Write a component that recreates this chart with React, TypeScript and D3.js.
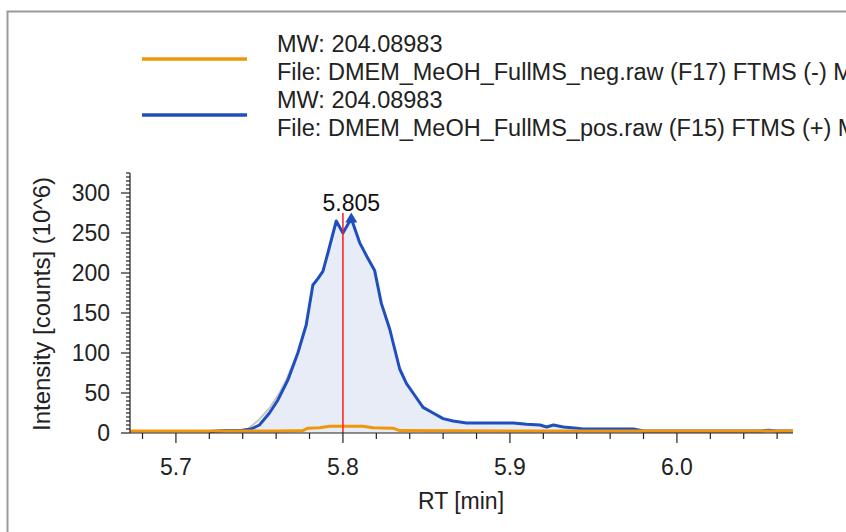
import React from 'react';
import * as d3 from 'd3';

// RT [min] vs intensity (10^6)
const bluePos: [number, number][] = [
  [5.720, 2], [5.730, 3], [5.740, 3.5], [5.745, 5], [5.750, 10], [5.756, 25],
  [5.761, 41], [5.767, 66], [5.773, 100], [5.778, 135], [5.782, 185], [5.785, 193],
  [5.788, 202], [5.791, 225], [5.796, 265], [5.800, 250], [5.805, 268], [5.810, 238],
  [5.815, 218], [5.819, 203], [5.823, 162], [5.828, 130], [5.834, 80], [5.838, 62],
  [5.842, 50], [5.848, 32], [5.854, 25], [5.860, 18], [5.866, 15], [5.874, 12.5],
  [5.890, 12.5], [5.902, 12.5], [5.910, 11], [5.918, 10], [5.922, 7.5], [5.926, 10],
  [5.932, 7.5], [5.940, 6], [5.944, 5], [5.974, 5], [5.980, 2.5], [6.050, 2.5],
  [6.055, 3.5], [6.060, 2.5], [6.0695, 2.5],
];

const grayRaw: [number, number][] = [
  [5.735, 3], [5.743, 5], [5.750, 17], [5.756, 31], [5.762, 50], [5.766, 66], [5.773, 100],
];

const orangeNeg: [number, number][] = [
  [5.6725, 2.5], [5.700, 2.5], [5.760, 2.5], [5.776, 3], [5.779, 6], [5.786, 6.5],
  [5.792, 8.5], [5.812, 8.5], [5.818, 6.5], [5.830, 6], [5.834, 3], [5.900, 2.5],
  [6.000, 2.5], [6.0695, 2.5],
];

// the chart panel clips these file names at its right edge, as in the original
const legendItems = [
  { color: '#f0960a', mw: 'MW: 204.08983', file: 'File: DMEM_MeOH_FullMS_neg.raw (F17) FTMS (-) MS' },
  { color: '#1f4fbf', mw: 'MW: 204.08983', file: 'File: DMEM_MeOH_FullMS_pos.raw (F15) FTMS (+) MS' },
];

const xTicks = [5.7, 5.8, 5.9, 6.0];
const yTicks = [0, 50, 100, 150, 200, 250, 300];
const peakRT = 5.805;
const peakValue = 268;
const cursorRT = 5.8;

export default function App() {
  const width = 846;
  const height = 532;
  const font = 'Liberation Sans, Arial, sans-serif';

  const x = d3.scaleLinear().domain([5.6725, 6.0695]).range([130, 793]);
  const y = d3.scaleLinear().domain([0, 325]).range([433, 173]);

  const line = d3.line<[number, number]>().x((d) => x(d[0])).y((d) => y(d[1]));
  const area = d3.area<[number, number]>().x((d) => x(d[0])).y0(y(0)).y1((d) => y(d[1]));

  const xMinor = d3.range(5.68, 6.07, 0.02).filter((t) => !xTicks.some((m) => Math.abs(m - t) < 1e-6));
  const yMinor = d3.range(0, 326, 5).filter((t) => t % 50 !== 0);

  const px = x(peakRT);
  const py = y(peakValue);

  return (
    <svg width={width} height={height} style={{ position: 'absolute', left: 0, top: 0, background: '#fff' }}>
      {/* frame */}
      <path d={`M7.5,${height} V11.5 H${width}`} fill="none" stroke="#9a9a9a" strokeWidth={2} />

      {/* legend */}
      {legendItems.map((it, i) => (
        <g key={it.file} transform={`translate(0, ${i * 56})`}>
          <line x1={142} x2={247} y1={59} y2={59} stroke={it.color} strokeWidth={3.5} />
          <text x={277} y={52} fontFamily={font} fontSize={23.5} fill="#222">{it.mw}</text>
          <text x={277} y={80} fontFamily={font} fontSize={23.5} fill="#222">{it.file}</text>
        </g>
      ))}

      {/* traces */}
      <path d={area(bluePos) ?? ''} fill="#e7ecf7" />
      <path d={line(grayRaw) ?? ''} fill="none" stroke="#c4c4c4" strokeWidth={2} />
      <path d={line(bluePos) ?? ''} fill="none" stroke="#1f4fbf" strokeWidth={3} strokeLinejoin="round" />
      <path d={line(orangeNeg) ?? ''} fill="none" stroke="#f0960a" strokeWidth={3} strokeLinejoin="round" />

      {/* cursor */}
      <line x1={x(cursorRT)} x2={x(cursorRT)} y1={213} y2={y(0)} stroke="#ff1a1a" strokeWidth={1.5} />

      {/* peak marker */}
      <path d={`M${px},${py - 6} L${px - 6},${py + 4} L${px + 6},${py + 4} Z`} fill="#1f4fbf" />
      <text x={px} y={211} textAnchor="middle" fontFamily={font} fontSize={23} fill="#111">{peakRT.toFixed(3)}</text>

      {/* y axis */}
      <g stroke="#222" strokeWidth={1.2}>
        <line x1={130} x2={130} y1={173} y2={433} />
        {yTicks.map((t) => <line key={`ym${t}`} x1={121} x2={130} y1={y(t)} y2={y(t)} />)}
        {yMinor.map((t) => <line key={`yn${t}`} x1={126} x2={130} y1={y(t)} y2={y(t)} />)}
      </g>
      {yTicks.map((t) => (
        <text key={`yl${t}`} x={110} y={y(t)} dy="0.36em" textAnchor="end" fontFamily={font} fontSize={23} fill="#222">{t}</text>
      ))}
      <text transform={`translate(50, 304) rotate(-90)`} textAnchor="middle" fontFamily={font} fontSize={24} fill="#222">
        Intensity [counts] (10^6)
      </text>

      {/* x axis */}
      <g stroke="#222" strokeWidth={1.2}>
        <line x1={130} x2={793} y1={433} y2={433} />
        {xTicks.map((t) => <line key={`xm${t}`} x1={x(t)} x2={x(t)} y1={433} y2={443} />)}
        {xMinor.map((t) => <line key={`xn${t.toFixed(2)}`} x1={x(t)} x2={x(t)} y1={433} y2={439} />)}
      </g>
      {xTicks.map((t) => (
        <text key={`xl${t}`} x={x(t)} y={475} textAnchor="middle" fontFamily={font} fontSize={23} fill="#222">{t.toFixed(1)}</text>
      ))}
      <text x={461} y={509} textAnchor="middle" fontFamily={font} fontSize={23} fill="#222">RT [min]</text>
    </svg>
  );
}
